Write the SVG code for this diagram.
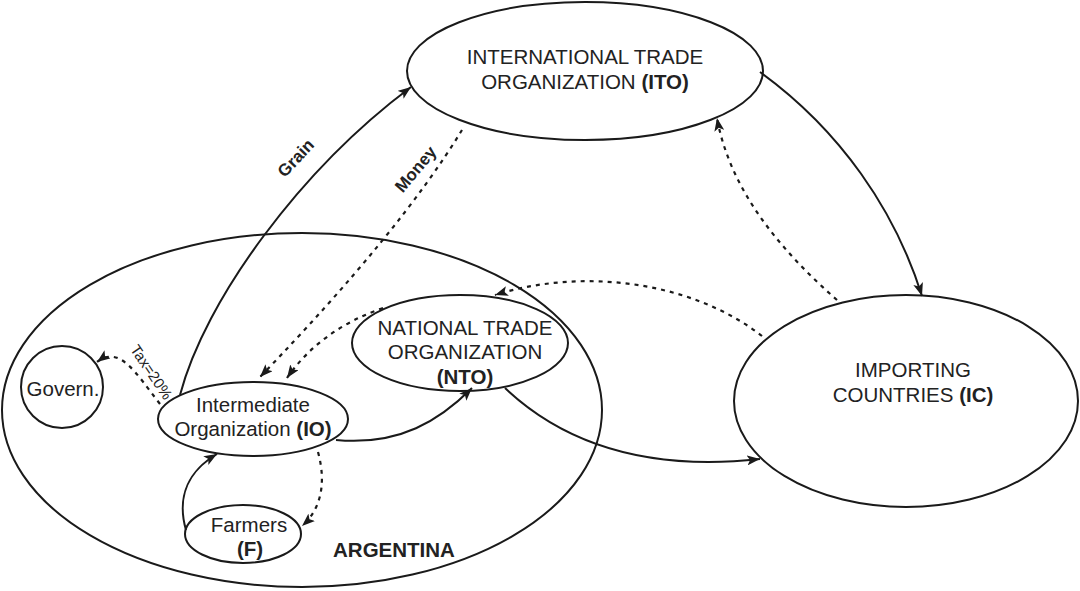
<svg xmlns="http://www.w3.org/2000/svg" width="1080" height="591" viewBox="0 0 1080 591">
<style>
.node{fill:none;stroke:#1a1a1a;stroke-width:2}
.t{font-family:"Liberation Sans",Arial,sans-serif;font-size:20.5px;fill:#222;text-anchor:middle}
.b{font-weight:bold}
.lbl{font-family:"Liberation Sans",Arial,sans-serif;font-weight:bold;font-size:17px;fill:#222;text-anchor:middle}
.solid{fill:none;stroke:#1a1a1a;stroke-width:2;marker-end:url(#arrow)}
.dash{fill:none;stroke:#1a1a1a;stroke-width:2.2;stroke-dasharray:4 5;marker-end:url(#arrow)}
</style>
<defs>
<marker id="arrow" viewBox="0 0 13 10" refX="13" refY="5" markerWidth="13" markerHeight="10" markerUnits="userSpaceOnUse" orient="auto">
<path d="M0,0 L13,5 L0,10 L3,5 z" fill="#1a1a1a"/>
</marker>
</defs>
<rect width="1080" height="591" fill="#fff"/>
<g id="argentina">
<ellipse class="node" cx="302" cy="410" rx="300" ry="177"/>
<text class="t b" x="394" y="557">ARGENTINA</text>
</g>
<g id="ito">
<ellipse class="node" cx="585" cy="71" rx="178" ry="69"/>
<text class="t" x="585" y="64">INTERNATIONAL TRADE</text>
<text class="t" x="585" y="89">ORGANIZATION <tspan class="b">(ITO)</tspan></text>
</g>
<g id="ic">
<ellipse class="node" cx="906" cy="401" rx="172" ry="106"/>
<text class="t" x="913" y="377">IMPORTING</text>
<text class="t" x="913" y="402">COUNTRIES <tspan class="b">(IC)</tspan></text>
</g>
<g id="nto">
<ellipse class="node" cx="460" cy="343" rx="108" ry="48"/>
<text class="t" x="465" y="335">NATIONAL TRADE</text>
<text class="t" x="465" y="359">ORGANIZATION</text>
<text class="t b" x="465" y="384">(NTO)</text>
</g>
<g id="io">
<ellipse class="node" cx="253" cy="419" rx="95" ry="37"/>
<text class="t" x="253" y="412">Intermediate</text>
<text class="t" x="253" y="436">Organization <tspan class="b">(IO)</tspan></text>
</g>
<g id="farmers">
<ellipse class="node" cx="243" cy="534" rx="58" ry="29"/>
<text class="t" x="249" y="532">Farmers</text>
<text class="t b" x="250" y="556">(F)</text>
</g>
<g id="govern">
<circle class="node" cx="62" cy="387" r="41"/>
<text class="t" x="63" y="396">Govern.</text>
</g>
<g id="connectors">
<path class="solid" d="M180,395 C205,300 300,170 411,87"/>
<path class="solid" d="M760,72 C840,130 895,210 922,296"/>
<path class="dash" d="M837,300 C780,250 730,190 717,118"/>
<path class="dash" d="M462,130 Q400,232 260,377"/>
<path class="dash" d="M383,308 Q320,330 287,378"/>
<path class="dash" d="M762,336 C690,280 580,268 495,295"/>
<path class="solid" d="M505,388 C560,440 640,472 760,459"/>
<path class="solid" d="M336,440 C400,446 440,420 472,388"/>
<path class="solid" d="M186,530 C176,495 190,470 217,454"/>
<path class="dash" d="M318,452 C327,485 320,510 302,526"/>
<path class="dash" d="M160,404 C135,372 120,345 97,362"/>
<text class="lbl" transform="translate(300,162) rotate(-47)">Grain</text>
<text class="lbl" transform="translate(420,173) rotate(-50)">Money</text>
<text style="font-family:'Liberation Sans',Arial,sans-serif;font-size:15px;fill:#222;text-anchor:middle" transform="translate(147,375) rotate(56)">Tax=20%</text>
</g>
</svg>
